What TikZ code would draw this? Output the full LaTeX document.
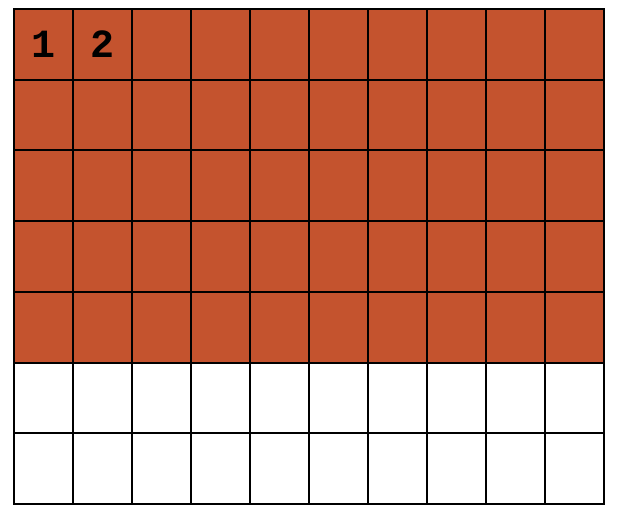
\documentclass[tikz,border=0pt]{standalone}
\usepackage{fontspec}
\newfontfamily\cellfont{Liberation Mono}
\usetikzlibrary{positioning}
\definecolor{brick}{RGB}{196,83,46}
\tikzset{
  cell/.style={draw=black, line width=2pt, minimum width=59pt, minimum height=70.71pt, inner sep=0pt},
  shaded/.style={cell, fill=brick},
  blank/.style={cell, fill=white},
  num/.style={font=\cellfont\bfseries\fontsize{40}{40}\selectfont, text=black},
}

\begin{document}
\begin{tikzpicture}[x=1pt,y=1pt]
\useasboundingbox (0,0) rectangle (620,522);

% 5 shaded rows, 2 blank rows
\foreach \r in {1,...,7}{
  \foreach \c in {1,...,10}{
    \ifnum\r<6
      \node[shaded] (c-\r-\c) at ({43.5+59*(\c-1)}, {477.64-70.71*(\r-1)}) {};
    \else
      \node[blank] (c-\r-\c) at ({43.5+59*(\c-1)}, {477.64-70.71*(\r-1)}) {};
    \fi
  }
}

\node[num] (one) at (c-1-1) {1};
\node[num] (two) at (c-1-2) {2};

\end{tikzpicture}
\end{document}
